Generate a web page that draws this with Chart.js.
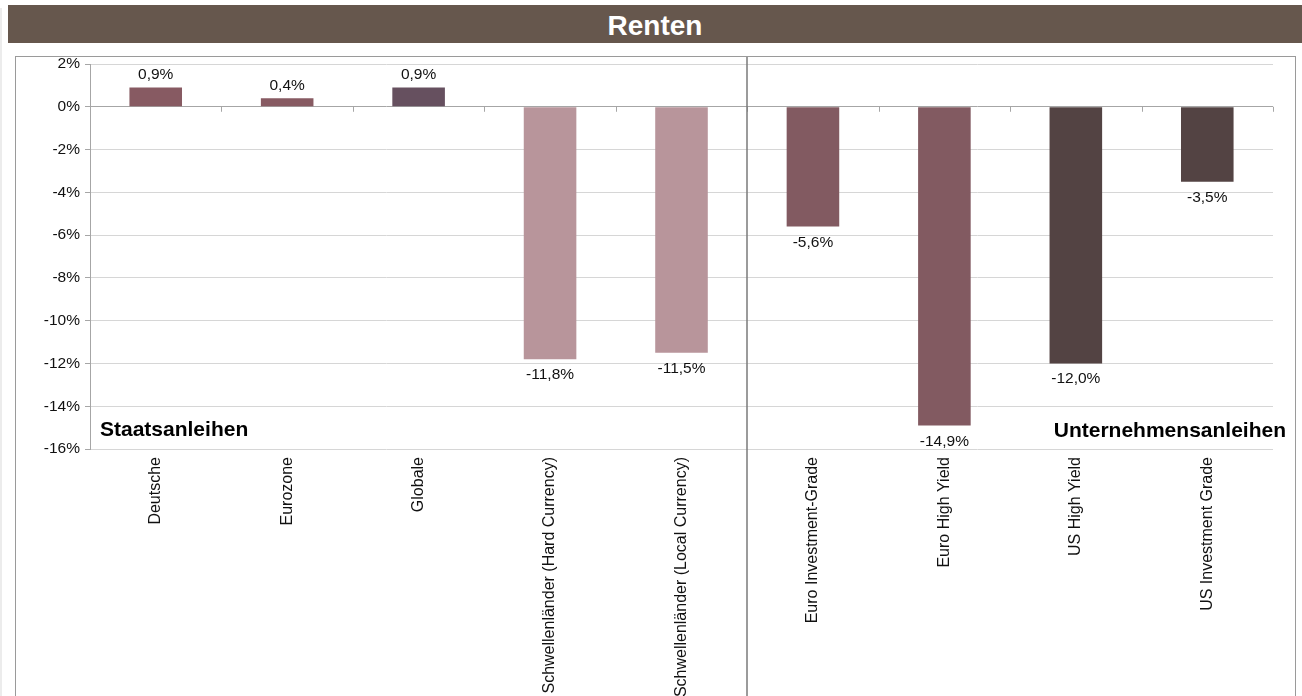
<!DOCTYPE html>
<html>
<head>
<meta charset="utf-8">
<script src="https://cdn.jsdelivr.net/npm/chart.js@4/dist/chart.umd.min.js"></script>
<style>
    body { margin: 0; background: #fff; overflow: hidden; width: 1302px; height: 696px; position: relative; font-family: 'Liberation Sans', Arial, sans-serif; }
    #edge { position: absolute; left: 0; top: 8px; width: 2px; height: 700px; background: #ececec; }
    #title { position: absolute; left: 8px; top: 5px; width: 1294px; height: 38px; background: #66574d; color: #fff; font-weight: bold; font-size: 28px; line-height: 41px; text-align: center; }
    #frame { position: absolute; left: 15px; top: 56px; width: 1279px; height: 700px; border: 1px solid #9a9a9a; background: #fff; }
    #chart { display: block; }
</style>
</head>
<body>
<div id="edge"></div>
<div id="title">Renten</div>
<div id="frame"><canvas id="chart" width="1279" height="650"></canvas></div>
<script>
const categories = ['Deutsche', 'Eurozone', 'Globale', 'Schwellenländer (Hard Currency)', 'Schwellenländer (Local Currency)',
    'Euro Investment-Grade', 'Euro High Yield', 'US High Yield', 'US Investment Grade'];
const values = [0.9, 0.4, 0.9, -11.8, -11.5, -5.6, -14.9, -12.0, -3.5];
const barColors = ['#875a62', '#875a62', '#66505f', '#b8959b', '#b8959b', '#825a61', '#825a61', '#534343', '#534343'];
const yMin = -16, yMax = 2, yStep = 2;
const groupLeft = 'Staatsanleihen';
const groupRight = 'Unternehmensanleihen';
const splitAfter = 5; // divider after the 5th category

const FONT = "'Liberation Sans', Arial, sans-serif";

function fmt(v) {
    return v.toFixed(1).replace('.', ',') + '%';
}

// value labels above / below the bars
const valueLabels = {
    id: 'valueLabels',
    afterDatasetsDraw(chart) {
        const ctx = chart.ctx;
        const meta = chart.getDatasetMeta(0);
        ctx.save();
        ctx.font = '15.5px ' + FONT;
        ctx.fillStyle = '#111';
        ctx.textAlign = 'center';
        meta.data.forEach((bar, i) => {
            const v = values[i];
            if (v >= 0) {
                ctx.textBaseline = 'bottom';
                ctx.fillText(fmt(v), bar.x, bar.y - 5);
            } else {
                ctx.textBaseline = 'top';
                ctx.fillText(fmt(v), bar.x, bar.y + 8);
            }
        });
        ctx.restore();
    }
};

// axis ticks on the 0 line, the group divider and group names
const extras = {
    id: 'extras',
    afterDraw(chart) {
        const ctx = chart.ctx;
        const y = chart.scales.y;
        const area = chart.chartArea;
        const y0 = y.getPixelForValue(0);
        ctx.save();
        ctx.strokeStyle = '#a6a6a6';
        ctx.lineWidth = 1;
        for (let i = 1; i <= categories.length; i++) {
            const px = Math.round(area.left + (area.right - area.left) * i / categories.length) + 0.5;
            ctx.beginPath();
            ctx.moveTo(px, y0);
            ctx.lineTo(px, y0 + 5);
            ctx.stroke();
        }
        // divider
        const dx = Math.round(area.left + (area.right - area.left) * splitAfter / categories.length);
        ctx.strokeStyle = '#7a7a7a';
        ctx.lineWidth = 1.5;
        ctx.beginPath();
        ctx.moveTo(dx, 0);
        ctx.lineTo(dx, chart.height);
        ctx.stroke();
        // group names
        ctx.font = 'bold 21px ' + FONT;
        ctx.fillStyle = '#000';
        ctx.textBaseline = 'alphabetic';
        ctx.textAlign = 'left';
        ctx.fillText(groupLeft, area.left + 10, 379);
        ctx.textAlign = 'right';
        ctx.fillText(groupRight, area.right + 13, 380);
        ctx.restore();
    }
};

new Chart(document.getElementById('chart'), {
    type: 'bar',
    data: {
        labels: categories,
        datasets: [{
            data: values,
            backgroundColor: barColors,
            borderWidth: 0,
            barPercentage: 0.4,
            categoryPercentage: 1.0
        }]
    },
    options: {
        responsive: false,
        maintainAspectRatio: false,
        animation: false,
        layout: { padding: { top: 7, right: 22, left: 0, bottom: 0 } },
        plugins: {
            legend: { display: false },
            tooltip: { enabled: false }
        },
        scales: {
            x: {
                grid: { display: false, drawTicks: false },
                border: { display: false },
                ticks: {
                    maxRotation: 90,
                    minRotation: 90,
                    padding: 8,
                    autoSkip: false,
                    color: '#111',
                    font: { family: FONT, size: 16 }
                },
                afterFit(scale) {
                    scale.height = 258;
                    scale.paddingLeft = 0;
                    scale.paddingRight = 0;
                }
            },
            y: {
                min: yMin,
                max: yMax,
                grid: {
                    color: ctx => ctx.tick && ctx.tick.value === 0 ? '#a6a6a6' : '#d6d6d6',
                    tickColor: '#a6a6a6',
                    tickLength: 5,
                    lineWidth: 1
                },
                border: { display: true, color: '#a6a6a6' },
                ticks: {
                    stepSize: yStep,
                    padding: 5,
                    color: '#111',
                    font: { family: FONT, size: 15.5 },
                    callback: v => v + '%'
                },
                afterFit(scale) {
                    scale.width = 74;
                    scale.paddingTop = 0;
                    scale.paddingBottom = 0;
                }
            }
        }
    },
    plugins: [valueLabels, extras]
});
</script>
</body>
</html>
